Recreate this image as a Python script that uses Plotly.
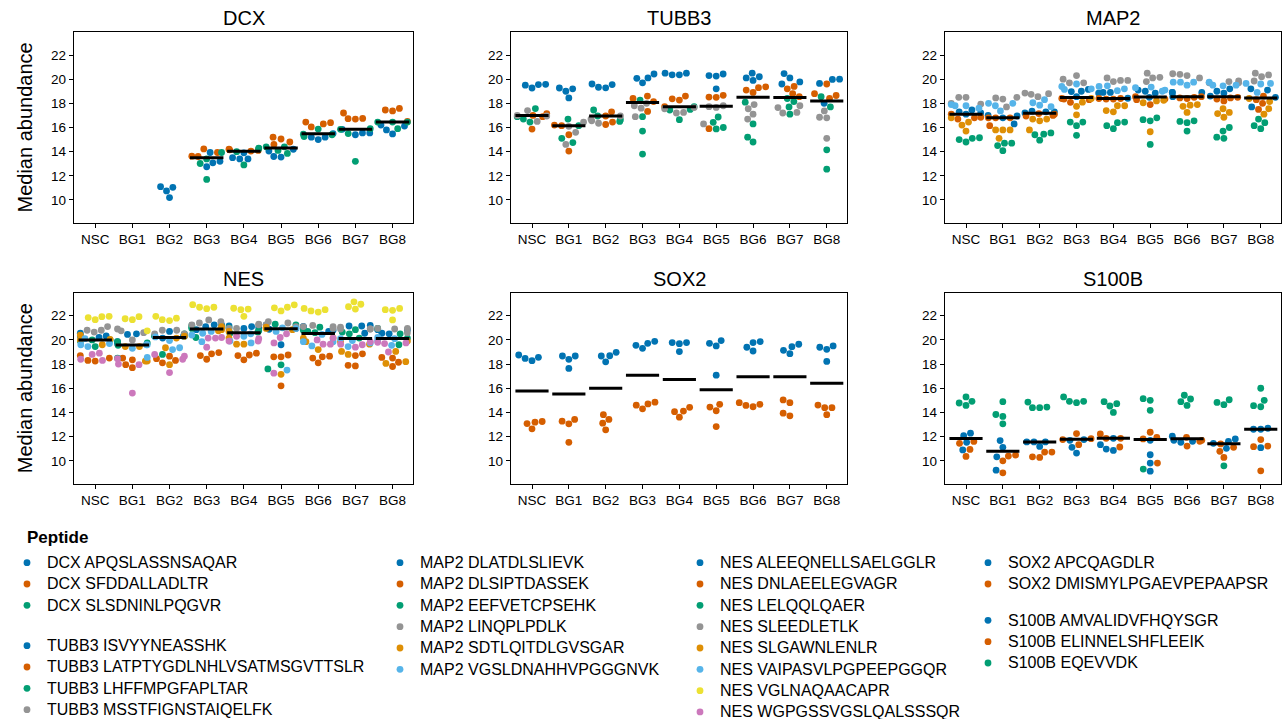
import numpy as np
import plotly.graph_objects as go

# ---------------- data ----------------
groups = ["NSC", "BG1", "BG2", "BG3", "BG4", "BG5", "BG6", "BG7", "BG8"]

# DCX
DCX_APQSLASSNSAQAR = [[], [], [11.1, 10.75, 10.2, 11.05], [13.08, 12.75, 13.2, 13.93], [13.5, 13.4, 13.4, 13.9],
                      [14.05, 13.6, 13.55, 14.2], [15.2, 15.0, 15.2, 15.5], [15.4, 15.55, 15.55, 15.85], [16.12, 15.8, 15.47, 16.2]]
DCX_SFDDALLADLTR = [[], [], [], [13.63, 13.93, 14.23, 13.6], [14.1, 14.2, 14.15, 14.05], [15.2, 14.8, 14.6, 15.05],
                    [16.45, 16.3, 16.05, 16.4], [17.2, 16.73, 16.7, 16.75], [17.58, 17.37, 17.45, 16.5]]
DCX_SLSDNINLPQGVR = [[], [], [], [13.93, 13.02, 11.7, 13.4], [14.3, 14.25, 12.9, 14.0], [14.4, 14.1, 13.85, 14.4],
                     [15.4, 15.87, 15.25, 15.45], [15.9, 15.85, 13.2, 15.5], [16.45, 16.45, 15.9, 16.45]]
# TUBB3
TUBB3_ISVYYNEASSHK = [[19.57, 19.5, 19.27, 19.55], [19.27, 19.0, 18.45, 19.2], [19.6, 19.33, 19.28, 19.55],
                      [20.43, 20.07, 19.7, 20.1], [20.5, 20.36, 20.36, 20.5], [20.43, 20.26, 20.3, 19.2],
                      [20.5, 20.1, 19.9, 20.2], [20.46, 19.77, 19.6, 20.1], [20.0, 19.65, 19.98, 18.0]]
TUBB3_LATPTYGDLNHLVSATMSGVTTSLR = [[17.15, 15.87, 16.9, 17.0], [16.2, 15.4, 14.05, 16.15], [17.3, 16.25, 16.45, 16.95],
                                   [18.6, 18.15, 18.4, 17.33], [18.6, 18.27, 18.37, 17.72], [18.66, 18.5, 18.52, 15.9],
                                   [19.37, 19.1, 18.9, 19.3], [19.4, 18.8, 18.55, 19.2], [18.8, 18.4, 19.6, 18.65]]
TUBB3_LHFFMPGFAPLTAR = [[17.57, 16.7, 16.45, 16.9], [16.7, 15.1, 14.75, 16.15], [17.45, 16.65, 16.5, 16.95],
                        [18.27, 16.9, 15.7, 13.8], [16.65, 17.5, 17.45, 17.72], [16.87, 16.43, 15.88, 16.0],
                        [18.1, 16.3, 15.2, 14.8], [18.4, 17.1, 17.7, 18.15], [18.55, 17.7, 14.15, 12.55]]
TUBB3_MSSTFIGNSTAIQELFK = [[17.4, 16.5, 16.95, 17.0], [16.45, 15.6, 14.6, 16.1], [16.55, 16.35, 16.95, 16.7],
                           [18.0, 17.6, 17.8, 16.9], [17.2, 17.25, 17.55, 17.65], [17.72, 17.8, 17.66, 16.3],
                           [17.55, 17.9, 17.1, 16.7], [17.65, 17.2, 17.8, 17.25], [17.37, 16.8, 16.85, 15.1]]
# MAP2
MAP2_DLATDLSLIEVK = [[17.45, 17.2, 17.1, 17.3], [17.0, 16.3, 16.95, 16.8], [17.35, 17.3, 17.3, 17.2],
                     [19.15, 19.0, 18.97, 18.55], [18.9, 18.42, 18.85, 18.9], [19.1, 19.0, 18.5, 18.85],
                     [18.9, 18.55, 18.9, 18.9], [19.2, 18.6, 19.0, 18.85], [19.1, 19.2, 17.7, 18.5]]
MAP2_DLSIPTDASSEK = [[16.7, 17.1, 16.8, 16.85], [16.8, 16.15, 16.8, 16.8], [17.0, 17.1, 16.95, 17.15],
                     [18.08, 18.3, 18.4, 18.35], [18.35, 18.35, 18.4, 18.4], [18.35, 17.9, 18.3, 18.55],
                     [18.4, 18.5, 18.45, 18.55], [18.35, 18.2, 18.45, 18.5], [18.3, 17.5, 18.0, 18.6]]
MAP2_EEFVETCPSEHK = [[15.15, 14.8, 15.1, 15.0], [14.7, 14.5, 14.08, 14.7], [15.55, 15.4, 14.95, 15.45],
                     [16.45, 16.15, 16.45, 15.35], [16.45, 16.15, 15.9, 16.4], [16.65, 16.55, 16.8, 14.6],
                     [16.55, 16.4, 16.5, 15.7], [16.0, 15.7, 15.2, 15.1], [16.7, 16.15, 16.4, 15.9]]
MAP2_LINQPLPDLK = [[18.5, 18.5, 17.94, 18.0], [18.5, 18.35, 18.45, 17.7], [18.8, 18.55, 18.75, 18.85],
                   [20.3, 19.7, 19.7, 20.0], [20.1, 19.8, 19.9, 19.9], [20.5, 19.8, 20.1, 20.15],
                   [20.45, 20.1, 20.4, 20.3], [19.8, 19.7, 19.7, 19.85], [20.5, 20.35, 20.2, 19.85]]
MAP2_SDTLQITDLGVSGAR = [[16.8, 16.45, 15.7, 16.2], [15.8, 15.8, 15.8, 15.1], [16.55, 15.8, 16.7, 16.7],
                        [17.75, 17.05, 18.1, 18.4], [17.8, 17.4, 17.3, 17.8], [18.2, 18.05, 15.65, 18.25],
                        [17.9, 17.75, 17.25, 17.85], [17.55, 17.15, 16.85, 17.25], [18.15, 17.1, 17.55, 18.4]]
MAP2_VGSLDNAHHVPGGGNVK = [[17.8, 17.9, 17.8, 17.6], [18.0, 18.0, 17.8, 17.37], [18.05, 17.85, 17.72, 18.3],
                          [19.6, 19.2, 19.15, 19.4], [19.45, 19.2, 19.4, 19.05], [19.3, 19.35, 19.1, 19.0],
                          [19.75, 19.75, 19.75, 19.5], [19.75, 19.5, 19.45, 19.5], [19.65, 19.6, 19.65, 18.9]]
# NES
NES_ALEEQNELLSAELGGLR = [[20.55, 20.33, 20.33, 20.2], [20.45, 19.85, 20.5, 19.7], [20.3, 20.7, 20.3, 20.15],
                         [21.25, 21.25, 21.1, 20.85], [21.0, 21.15, 21.1, 20.95], [21.25, 20.88, 19.6, 20.95],
                         [21.1, 21.1, 20.8, 20.7], [21.2, 21.15, 21.15, 20.55], [20.85, 20.85, 20.55, 20.5]]
NES_DNLAEELEGVAGR = [[18.5, 18.25, 18.3, 18.7], [18.5, 17.7, 18.35, 17.95], [18.65, 18.45, 18.3, 18.1],
                     [18.95, 18.4, 18.85, 18.7], [18.9, 18.7, 18.75, 18.35], [18.75, 18.6, 18.6, 16.2],
                     [18.65, 18.5, 18.6, 18.1], [18.85, 18.7, 17.9, 17.85], [18.55, 18.5, 17.8, 18.15]]
NES_LELQQLQAER = [[19.45, 19.9, 20.0, 20.0], [18.5, 19.55, 19.85, 19.75], [20.5, 20.3, 20.35, 18.8],
                  [21.2, 20.2, 21.05, 20.95], [21.0, 20.65, 20.75, 20.55], [21.3, 21.25, 17.94, 17.6],
                  [21.05, 20.8, 20.6, 20.7], [20.65, 20.85, 20.5, 20.15], [20.95, 20.5, 19.6, 20.15]]
NES_SLEEDLETLK = [[21.1, 20.8, 20.8, 20.65], [20.0, 20.75, 20.6, 20.9], [20.8, 20.8, 20.5, 20.5],
                  [21.5, 21.65, 21.4, 21.25], [21.25, 21.3, 20.95, 20.95], [21.1, 21.4, 21.5, 21.25],
                  [21.2, 21.1, 21.1, 20.95], [21.05, 20.9, 20.9, 20.9], [20.9, 20.95, 20.95, 20.6]]
NES_SLGAWNLENLR = [[20.4, 20.0, 19.6, 20.05], [18.25, 19.45, 19.45, 18.25], [20.3, 20.15, 19.35, 17.95],
                   [21.1, 20.85, 20.75, 21.0], [19.65, 20.15, 20.7, 19.65], [20.85, 21.05, 17.15, 20.95],
                   [20.15, 19.85, 19.2, 20.15], [19.85, 19.05, 18.8, 19.65], [19.05, 19.9, 18.2, 18.05]]
NES_VAIPASVLPGPEEPGGQR = [[19.7, 19.45, 19.6, 20.1], [18.55, 19.3, 19.6, 19.6], [20.25, 19.2, 19.95, 19.35],
                          [20.55, 19.85, 20.4, 20.7], [19.75, 19.9, 20.3, 20.5], [20.7, 17.5, 20.95, 21.0],
                          [19.5, 19.85, 20.45, 19.85], [19.45, 19.95, 19.75, 20.1], [19.55, 20.2, 20.1, 19.95]]
NES_VGLNAQAACAPR = [[21.92, 21.67, 21.85, 21.95], [21.92, 21.67, 21.75, 20.75], [21.95, 21.67, 21.6, 21.8],
                    [22.91, 22.58, 22.7, 22.7], [22.62, 22.5, 22.55, 21.95], [22.9, 22.7, 22.4, 22.65],
                    [22.6, 22.3, 22.5, 22.4], [23.15, 22.75, 22.55, 22.95], [22.6, 22.45, 22.5, 21.65]]
NES_WGPGSSVGSLQALSSSQR = [[18.9, 18.8, 18.3, 18.4], [18.45, 18.0, 17.95, 15.6], [18.8, 18.65, 18.4, 17.3],
                          [20.15, 19.4, 20.2, 20.15], [19.9, 19.9, 20.1, 20.3], [20.2, 19.75, 17.25, 20.5],
                          [20.0, 19.65, 19.65, 20.15], [19.65, 19.6, 19.4, 19.85], [19.0, 19.7, 19.75, 19.8]]
# SOX2
SOX2_APCQAGDLR = [[18.75, 18.47, 18.28, 18.56], [18.67, 18.39, 17.64, 18.67], [18.97, 18.67, 18.19, 18.69],
                  [19.88, 19.55, 19.3, 19.72], [19.78, 19.69, 19.03, 19.78], [19.94, 19.5, 17.08, 19.72],
                  [19.86, 19.39, 19.08, 19.78], [19.64, 19.14, 18.86, 19.44], [19.5, 19.22, 18.22, 19.39]]
SOX2_DMISMYLPGAEVPEPAAPSR = [[13.25, 13.08, 12.64, 13.19], [13.42, 13.06, 11.53, 13.28], [13.81, 13.11, 12.56, 13.42],
                             [14.85, 14.6, 14.3, 14.7], [14.42, 14.06, 13.61, 14.11], [14.67, 14.14, 12.83, 14.44],
                             [14.81, 14.58, 14.47, 14.67], [15.03, 13.94, 13.72, 14.81], [14.61, 14.39, 13.81, 14.39]]
# S100B
S100B_AMVALIDVFHQYSGR = [[12.28, 10.9, 11.53, 12.08], [11.67, 10.33, 11.11, 9.22], [11.56, 11.56, 11.19, 11.56],
                         [11.75, 11.11, 10.64, 11.69], [11.33, 10.97, 10.86, 11.86], [11.69, 10.5, 9.81, 9.14],
                         [12.03, 11.53, 11.69, 11.61], [11.61, 11.03, 11.81, 11.44], [12.69, 12.61, 11.08, 12.61]]
S100B_ELINNELSHFLEEIK = [[11.44, 11.6, 10.36, 10.94], [10.47, 10.39, 10.0, 9.0], [10.72, 10.33, 10.28, 10.72],
                         [12.25, 11.75, 11.33, 11.83], [12.22, 11.86, 11.86, 11.14], [11.94, 12.36, 11.81, 9.81],
                         [11.61, 11.69, 11.22, 11.94], [11.39, 11.11, 10.78, 10.28], [11.22, 11.75, 11.17, 9.17]]
S100B_EQEVVDK = [[15.28, 14.78, 14.58, 14.92], [14.89, 13.67, 13.83, 13.06], [14.86, 14.39, 14.39, 14.44],
                 [15.28, 14.92, 14.81, 14.92], [14.89, 14.53, 14.0, 14.72], [15.14, 14.17, 15.0, 9.31],
                 [15.42, 14.89, 15.11, 14.58], [15.05, 14.64, 14.83, 9.58], [16.0, 14.56, 14.47, 15.0]]

# ---------------- styling ----------------
BLUE, VERM, GREEN, GREY = "#0173B2", "#D55E00", "#029E73", "#949494"
ORANGE, LBLUE, YELLOW, PINK = "#DE8F05", "#56B4E9", "#ECE133", "#CC78BC"
FONT = "Arial, 'Liberation Sans', Helvetica, sans-serif"

panels = [
    ("DCX", [("DCX APQSLASSNSAQAR", DCX_APQSLASSNSAQAR, BLUE),
             ("DCX SFDDALLADLTR", DCX_SFDDALLADLTR, VERM),
             ("DCX SLSDNINLPQGVR", DCX_SLSDNINLPQGVR, GREEN)], "legend"),
    ("TUBB3", [("TUBB3 ISVYYNEASSHK", TUBB3_ISVYYNEASSHK, BLUE),
               ("TUBB3 LATPTYGDLNHLVSATMSGVTTSLR", TUBB3_LATPTYGDLNHLVSATMSGVTTSLR, VERM),
               ("TUBB3 LHFFMPGFAPLTAR", TUBB3_LHFFMPGFAPLTAR, GREEN),
               ("TUBB3 MSSTFIGNSTAIQELFK", TUBB3_MSSTFIGNSTAIQELFK, GREY)], "legend"),
    ("MAP2", [("MAP2 DLATDLSLIEVK", MAP2_DLATDLSLIEVK, BLUE),
              ("MAP2 DLSIPTDASSEK", MAP2_DLSIPTDASSEK, VERM),
              ("MAP2 EEFVETCPSEHK", MAP2_EEFVETCPSEHK, GREEN),
              ("MAP2 LINQPLPDLK", MAP2_LINQPLPDLK, GREY),
              ("MAP2 SDTLQITDLGVSGAR", MAP2_SDTLQITDLGVSGAR, ORANGE),
              ("MAP2 VGSLDNAHHVPGGGNVK", MAP2_VGSLDNAHHVPGGGNVK, LBLUE)], "legend2"),
    ("NES", [("NES ALEEQNELLSAELGGLR", NES_ALEEQNELLSAELGGLR, BLUE),
             ("NES DNLAEELEGVAGR", NES_DNLAEELEGVAGR, VERM),
             ("NES LELQQLQAER", NES_LELQQLQAER, GREEN),
             ("NES SLEEDLETLK", NES_SLEEDLETLK, GREY),
             ("NES SLGAWNLENLR", NES_SLGAWNLENLR, ORANGE),
             ("NES VAIPASVLPGPEEPGGQR", NES_VAIPASVLPGPEEPGGQR, LBLUE),
             ("NES VGLNAQAACAPR", NES_VGLNAQAACAPR, YELLOW),
             ("NES WGPGSSVGSLQALSSSQR", NES_WGPGSSVGSLQALSSSQR, PINK)], "legend3"),
    ("SOX2", [("SOX2 APCQAGDLR", SOX2_APCQAGDLR, BLUE),
              ("SOX2 DMISMYLPGAEVPEPAAPSR", SOX2_DMISMYLPGAEVPEPAAPSR, VERM)], "legend4"),
    ("S100B", [("S100B AMVALIDVFHQYSGR", S100B_AMVALIDVFHQYSGR, BLUE),
               ("S100B ELINNELSHFLEEIK", S100B_ELINNELSHFLEEIK, VERM),
               ("S100B EQEVVDK", S100B_EQEVVDK, GREEN)], "legend4"),
]

W, H = 1284, 719
col_px = [(74, 413), (511, 847), (945, 1281)]
row_px = [(32.3, 222.7), (293, 483.5)]
XR = [-0.57, 8.55]
YR = [8.12, 23.88]
px_x = (col_px[0][1] - col_px[0][0]) / (XR[1] - XR[0])
px_y = (row_px[0][1] - row_px[0][0]) / (YR[1] - YR[0])
DIAM = 7.3     # collision diameter in px
HALF_W = 0.4   # swarm half width (category units); points beyond are clamped


def swarm(vals):
    """Beeswarm offsets (in category units) for one group of values."""
    vals = np.asarray(vals, float)
    order = np.argsort(vals, kind="stable")
    placed = []
    offs = np.zeros(len(vals))
    for i in order:
        y = vals[i] * px_y
        cands = [0.0]
        for xp, yp in placed:
            dy = abs(y - yp)
            if dy < DIAM:
                dx = np.sqrt(DIAM * DIAM - dy * dy)
                cands += [xp - dx, xp + dx]
        cands = sorted(cands, key=lambda c: (round(abs(c), 6), c))
        chosen = cands[-1]
        for c in cands:
            if all((c - xp) ** 2 + (y - yp) ** 2 >= DIAM * DIAM - 1e-6 for xp, yp in placed):
                chosen = c
                break
        placed.append((chosen, y))
        offs[i] = chosen / px_x
    return np.clip(offs, -HALF_W, HALF_W)


LEG_TXT = 16  # rendered legend text size

fig = go.Figure()
annotations = []
for k, (gene, peps, leg) in enumerate(panels):
    r, c = divmod(k, 3)
    axn = "" if k == 0 else str(k + 1)
    xd = [col_px[c][0] / W, col_px[c][1] / W]
    yd = [1 - row_px[r][1] / H, 1 - row_px[r][0] / H]
    axis_common = dict(showline=True, mirror=True, linecolor="black", linewidth=1.3,
                       ticks="outside", ticklen=4, tickwidth=1.2, tickcolor="black",
                       showgrid=False, zeroline=False,
                       tickfont=dict(family=FONT, size=13.5, color="black"))
    fig.layout["xaxis" + axn] = dict(domain=xd, range=XR, tickmode="array",
                                     tickvals=list(range(len(groups))), ticktext=groups,
                                     anchor="y" + axn, **axis_common)
    fig.layout["yaxis" + axn] = dict(domain=yd, range=YR, tickmode="array",
                                     tickvals=list(range(10, 23, 2)), anchor="x" + axn, **axis_common)

    xs = {name: [] for name, _, _ in peps}
    ys = {name: [] for name, _, _ in peps}
    med_x, med_y = [], []
    for gi in range(len(groups)):
        vals, owners = [], []
        for name, arr, _ in peps:
            for v in arr[gi]:
                vals.append(v)
                owners.append(name)
        if not vals:
            continue
        offs = swarm(vals)
        for v, o, name in zip(vals, offs, owners):
            xs[name].append(gi + o)
            ys[name].append(v)
        if len(set(owners)) > 1:
            m = float(np.median(vals))
            med_x += [gi - 0.45, gi + 0.45, None]
            med_y += [m, m, None]

    for name, arr, col in peps:
        fig.add_trace(go.Scatter(
            x=xs[name], y=ys[name], mode="markers",
            name='<span style="font-size:%dpx">%s</span>' % (LEG_TXT, name),
            marker=dict(color=col, size=6.8, line=dict(width=0)),
            xaxis="x" + axn, yaxis="y" + axn, legend=leg, legendgroup=gene,
            hovertemplate=name + "<br>%{y:.2f}<extra></extra>"))
    fig.add_trace(go.Scatter(x=med_x, y=med_y, mode="lines", line=dict(color="black", width=3),
                             xaxis="x" + axn, yaxis="y" + axn, showlegend=False, hoverinfo="skip"))

    annotations.append(dict(text=gene, x=(xd[0] + xd[1]) / 2, y=yd[1], xref="paper", yref="paper",
                            xanchor="center", yanchor="bottom", yshift=1, showarrow=False,
                            font=dict(family=FONT, size=20, color="black")))
    if c == 0:
        annotations.append(dict(text="Median abundance", x=25 / W, y=(yd[0] + yd[1]) / 2,
                                xref="paper", yref="paper", xanchor="center", yanchor="middle",
                                textangle=-90, showarrow=False,
                                font=dict(family=FONT, size=20, color="black")))

annotations.append(dict(text="<b>Peptide</b>", x=25 / W, y=1 - 537 / H, xref="paper", yref="paper",
                        xanchor="left", yanchor="middle", showarrow=False,
                        font=dict(family=FONT, size=17, color="black")))

leg_common = dict(yanchor="top", xanchor="left", bgcolor="rgba(0,0,0,0)", borderwidth=0,
                  font=dict(family=FONT, size=14.1, color="black"), itemwidth=30,
                  orientation="v", itemclick=False, itemdoubleclick=False)
ytop = 1 - 547 / H
fig.update_layout(
    width=W, height=H, margin=dict(l=0, r=0, t=0, b=0, autoexpand=False),
    plot_bgcolor="white", paper_bgcolor="white",
    font=dict(family=FONT, color="black"),
    annotations=annotations,
    legend=dict(x=7 / W, y=ytop, tracegroupgap=19, **leg_common),
    legend2=dict(x=380 / W, y=ytop, **leg_common),
    legend3=dict(x=680 / W, y=ytop, **leg_common),
    legend4=dict(x=968 / W, y=ytop, tracegroupgap=15, **leg_common),
)

fig.write_html("out.html", include_plotlyjs=True, config={"displayModeBar": False},
               post_script="document.body.style.margin='0';")
